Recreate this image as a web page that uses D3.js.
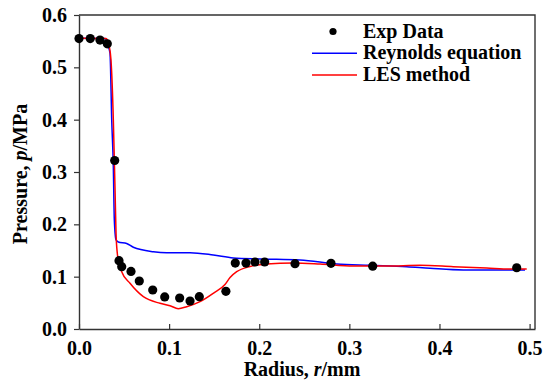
<!DOCTYPE html>
<html>
<head>
<meta charset="utf-8">
<script src="https://cdn.jsdelivr.net/npm/d3@7"></script>
<style>
  html, body { margin: 0; padding: 0; background: #fff; }
  svg { display: block; }
  text { font-family: "Liberation Serif", "Times New Roman", serif; font-weight: bold; fill: #000; }
</style>
</head>
<body>
<svg id="chart" width="553" height="385"></svg>
<script>
// Measured pressure along the radius (r in mm, p in MPa)
const expRadius = [0, 0.0125, 0.0233, 0.0314, 0.0396, 0.0444, 0.0474, 0.0577, 0.0669, 0.0818,
  0.0951, 0.1117, 0.1232, 0.1335, 0.163, 0.1734, 0.1853, 0.1953, 0.206, 0.2397, 0.2796, 0.3259, 0.4857];
const expPressure = [0.555, 0.555, 0.552, 0.545, 0.322, 0.1305, 0.119, 0.110, 0.0917, 0.0745,
  0.0612, 0.0592, 0.0535, 0.0617, 0.072, 0.126, 0.126, 0.128, 0.128, 0.1248, 0.1255, 0.120, 0.117];

// Reynolds equation solution
const reyRadius = [0, 0.0289, 0.0325, 0.0344, 0.0363, 0.0381, 0.0392, 0.0411, 0.0436, 0.0529,
  0.0603, 0.0825, 0.0973, 0.1232, 0.149, 0.1712, 0.2008, 0.2452, 0.286, 0.3229, 0.3636, 0.3895,
  0.4264, 0.4524, 0.4949];
const reyPressure = [0.5555, 0.555, 0.5395, 0.527, 0.3994, 0.310, 0.2083, 0.1701, 0.1663, 0.1634,
  0.1561, 0.1477, 0.1458, 0.1458, 0.1414, 0.1357, 0.1338, 0.1319, 0.1242, 0.1217, 0.1191, 0.116,
  0.1127, 0.1127, 0.1127];

// LES method solution
const lesRadius = [0, 0.030, 0.0336, 0.0355, 0.0381, 0.0392, 0.040, 0.0411, 0.0425, 0.0436,
  0.0474, 0.0566, 0.0714, 0.0899, 0.101, 0.1102, 0.1195, 0.1343, 0.149, 0.162,
  0.1676, 0.175, 0.1897, 0.2083, 0.2378, 0.2674, 0.3044, 0.3414, 0.3784, 0.4153, 0.4524, 0.4783, 0.4968];
const lesPressure = [0.5555, 0.555, 0.5395, 0.514, 0.3994, 0.323, 0.2656, 0.1829, 0.1447, 0.1319,
  0.1095, 0.0873, 0.0617, 0.0491, 0.0445, 0.0388, 0.0426, 0.0522, 0.0682, 0.085,
  0.0984, 0.1095, 0.1194, 0.1242, 0.1261, 0.1242, 0.1204, 0.1204, 0.1217, 0.1191, 0.1166, 0.1147, 0.1147];

const xTicks = [0, 0.1, 0.2, 0.3, 0.4, 0.5];
const yTicks = [0, 0.1, 0.2, 0.3, 0.4, 0.5, 0.6];

const legendItems = [
  { label: "Exp Data", type: "dot", color: "#000" },
  { label: "Reynolds equation", type: "line", color: "#0000ff" },
  { label: "LES method", type: "line", color: "#ff0000" }
];

const svg = d3.select("#chart");
const plotLeft = 79, plotRight = 535, plotTop = 15, plotBottom = 329;
const fontSize = 20;
const serif = "Liberation Serif, Times New Roman, serif";

const x = d3.scaleLinear().domain([0, 0.506]).range([plotLeft, plotRight]);
const y = d3.scaleLinear().domain([0, 0.6]).range([plotBottom, plotTop]);

// Frame (top and right edges)
svg.append("path")
  .attr("d", `M${plotLeft},${plotTop}H${plotRight}V${plotBottom}`)
  .attr("fill", "none").attr("stroke", "#333").attr("stroke-width", 1.4);

// X axis: ticks point into the plot
const xAxis = svg.append("g").attr("transform", `translate(0,${plotBottom})`)
  .call(d3.axisBottom(x).tickValues(xTicks).tickFormat(d3.format(".1f")).tickSizeInner(-5).tickSizeOuter(0).tickPadding(12));
xAxis.attr("font-family", serif);
xAxis.select(".domain").attr("stroke", "#333").attr("stroke-width", 1.4);
xAxis.selectAll(".tick line").attr("stroke", "#333").attr("stroke-width", 1.2);
xAxis.selectAll(".tick text").attr("font-size", fontSize).attr("font-family", serif).attr("fill", "#000");

// Y axis: ticks point outward
const yAxis = svg.append("g").attr("transform", `translate(${plotLeft},0)`)
  .call(d3.axisLeft(y).tickValues(yTicks).tickFormat(d3.format(".1f")).tickSizeInner(5).tickSizeOuter(0).tickPadding(7));
yAxis.attr("font-family", serif);
yAxis.select(".domain").attr("stroke", "#333").attr("stroke-width", 1.4);
yAxis.selectAll(".tick line").attr("stroke", "#333").attr("stroke-width", 1.2);
yAxis.selectAll(".tick text").attr("font-size", fontSize).attr("font-family", serif).attr("fill", "#000");

// Curves
const line = d3.line().x(d => x(d[0])).y(d => y(d[1])).curve(d3.curveMonotoneX);
svg.append("path")
  .datum(reyRadius.map((r, i) => [r, reyPressure[i]]))
  .attr("d", line).attr("fill", "none").attr("stroke", "#0000ff").attr("stroke-width", 1.5);
svg.append("path")
  .datum(lesRadius.map((r, i) => [r, lesPressure[i]]))
  .attr("d", line).attr("fill", "none").attr("stroke", "#ff0000").attr("stroke-width", 1.5);

// Experimental points
svg.append("g").selectAll("circle")
  .data(expRadius.map((r, i) => [r, expPressure[i]]))
  .join("circle")
  .attr("cx", d => x(d[0])).attr("cy", d => y(d[1])).attr("r", 4.6).attr("fill", "#000");

// Axis titles
const xt = svg.append("text").attr("x", 302).attr("y", 376).attr("text-anchor", "middle")
  .attr("font-size", fontSize).attr("font-family", serif);
xt.append("tspan").text("Radius, ");
xt.append("tspan").attr("font-style", "italic").text("r");
xt.append("tspan").text("/mm");

const yt = svg.append("text").attr("transform", "translate(27,174) rotate(-90)").attr("text-anchor", "middle")
  .attr("font-size", fontSize).attr("font-family", serif);
yt.append("tspan").text("Pressure, ");
yt.append("tspan").attr("font-style", "italic").text("p");
yt.append("tspan").text("/MPa");

// Legend
const lg = svg.append("g");
legendItems.forEach((item, i) => {
  const by = 37.5 + i * 21.7;
  if (item.type === "dot") {
    lg.append("circle").attr("cx", 333).attr("cy", by - 6).attr("r", 3.6).attr("fill", item.color);
  } else {
    lg.append("line").attr("x1", 312).attr("x2", 357).attr("y1", by - 6).attr("y2", by - 6)
      .attr("stroke", item.color).attr("stroke-width", 1.5);
  }
  lg.append("text").attr("x", 363).attr("y", by).attr("font-size", fontSize).attr("font-family", serif).text(item.label);
});
</script>
</body>
</html>
